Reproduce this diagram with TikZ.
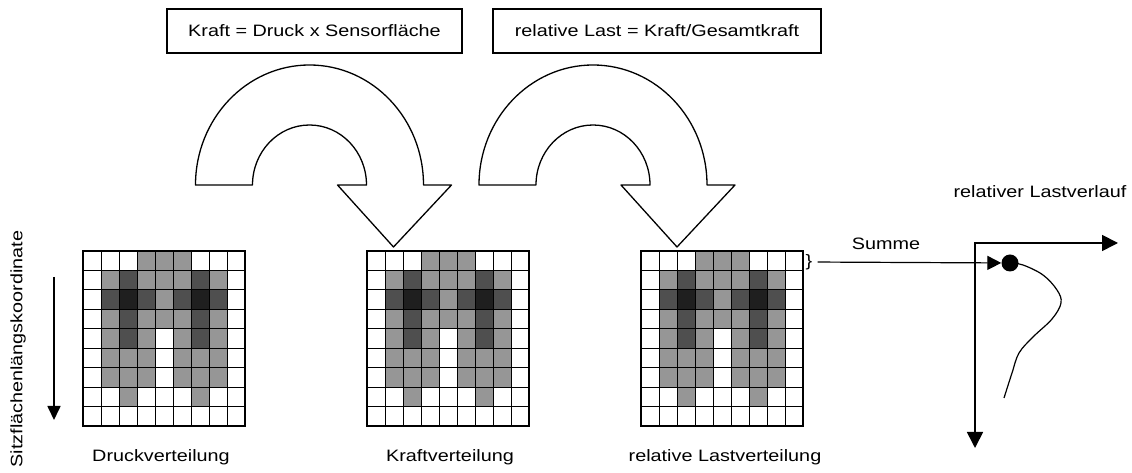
\documentclass[tikz,border=0pt]{standalone}
\usepackage{fontspec}
\setmainfont{Liberation Sans}[FakeStretch=1.2]
\usetikzlibrary{arrows.meta}
\colorlet{ton0}{white}
\definecolor{ton1}{gray}{0.59}
\definecolor{ton2}{gray}{0.31}
\definecolor{ton3}{gray}{0.12}
\newcommand\sitzmuster{{0,0,0,1,1,1,0,0,0},{0,1,2,1,1,1,2,1,0},{0,2,3,2,1,2,3,2,0},{0,1,2,1,1,1,2,1,0},{0,1,2,1,0,1,2,1,0},{0,1,1,1,0,1,1,1,0},{0,1,1,1,0,1,1,1,0},{0,0,1,0,0,0,1,0,0},{0,0,0,0,0,0,0,0,0}}

\begin{document}
\begin{tikzpicture}[x=1pt,y=1pt,font=\fontsize{16.5}{19}\selectfont,
  formel/.style={draw,line width=1.5pt,minimum width=#1,minimum height=44pt,inner sep=0pt},
  bogen/.style={draw,fill=white,line width=1.3pt,line join=round},
  zelle/.style={draw,line width=0.8pt},
  matte/.style={draw,line width=1.8pt,minimum width=162pt,minimum height=175pt,inner sep=0pt},
  achse/.style={line width=1.7pt},
  punkt/.style={circle,fill=black,inner sep=0pt,minimum size=17pt}]
\useasboundingbox (0,0) rectangle (1132,473);
\node[formel=295pt] (kraftformel) at (314.5,442) {Kraft = Druck x Sensorfläche};
\node[formel=328pt] (lastformel) at (657,442) {relative Last = Kraft/Gesamtkraft};
\foreach \c in {309.5,593}
  \draw[bogen] (\c-114,288) arc[start angle=180,end angle=0,x radius=114,y radius=120]
    -- (\c+142,288) -- (\c+84,226) -- (\c+28,288) -- (\c+57,288)
    arc[start angle=0,end angle=180,x radius=57,y radius=60] -- cycle;
\foreach \g/\gx/\txt/\tx in {druck/164/Druckverteilung/161,kraft/448/Kraftverteilung/450,last/722/relative Lastverteilung/725}{
  \foreach \row [count=\j] in \sitzmuster
    \foreach \v [count=\i] in \row
      \draw[zelle,fill=ton\v] (\gx+18*\i-99,241.444-19.444*\j) rectangle ++(18,-19.444);
  \node[matte] (\g) at (\gx,134.5) {};
  \node (\g-label) at (\tx,16) {\txt};
}
\node[rotate=90] (koordtext) at (18,124) {Sitzflächenlängskoordinate};
\coordinate (koordoben) at (54,196);
\coordinate (koordunten) at (54,53);
\draw[achse,-{Triangle[length=14pt,width=13pt]}] (koordoben) -- (koordunten);
\node (lastverlauf) at (1040,281) {relativer Lastverlauf};
\coordinate (ursprung) at (975,230);
\coordinate (xende) at (1118,230);
\coordinate (yende) at (975,25);
\draw[achse,{Triangle[length=16pt,width=16pt]}-{Triangle[length=16pt,width=16pt]}] (xende) -- (ursprung) -- (yende);
\node[punkt] (punkt) at (1010,210) {};
\node[inner sep=1pt] (klammer) at (809,211) {\}};
\node (summe) at (886,229) {Summe};
\draw[line width=1.2pt,shorten <=4pt,-{Triangle[length=14pt,width=14pt]}] (klammer) -- (punkt);
\draw[line width=1.2pt] plot[smooth,tension=0.6] coordinates {(punkt.center) (1023,208) (1043,198) (1057,183) (1061,170) (1052,154) (1033,136) (1019,120) (1012,100) (1004,75)};
\end{tikzpicture}
\end{document}
